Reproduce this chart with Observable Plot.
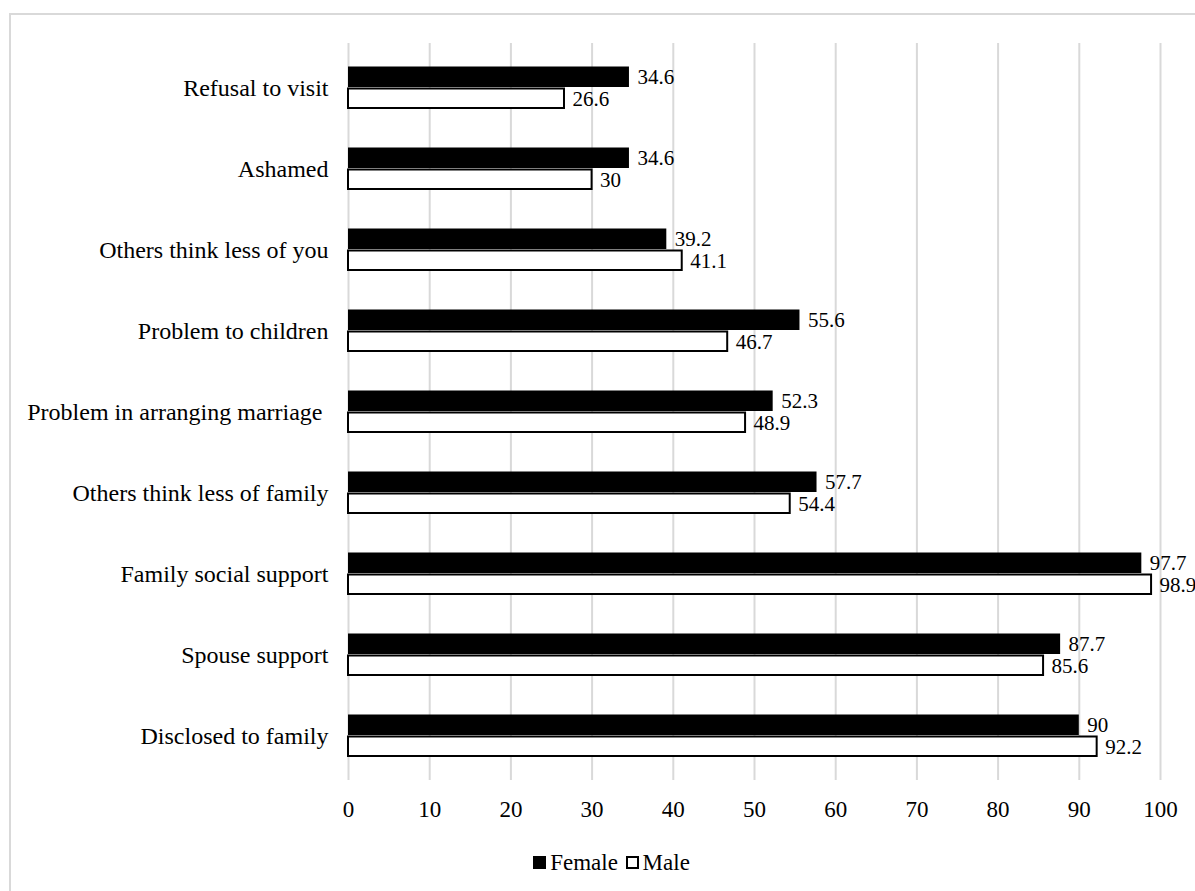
<!DOCTYPE html>
<html>
<head>
<meta charset="utf-8">
<script src="https://cdn.jsdelivr.net/npm/d3@7"></script>
<script src="https://cdn.jsdelivr.net/npm/@observablehq/plot@0.6"></script>
<style>
  html, body { margin: 0; padding: 0; background: #fff; }
  body { width: 1195px; height: 891px; overflow: hidden; position: relative; font-family: "Liberation Serif", "Times New Roman", serif; }
  #frame { position: absolute; left: 9px; top: 13px; width: 1200px; height: 900px; border: 2px solid #d9d9d9; box-sizing: border-box; }
  #chart { position: absolute; left: 0; top: 0; }
  #legend { position: absolute; left: 14px; top: 850px; width: 1195px; text-align: center; font-size: 23px; color: #000; }
  #legend span.sw { display: inline-block; width: 13px; height: 13px; box-sizing: border-box; border: 2px solid #000; margin-right: 4px; vertical-align: 1px; }
</style>
</head>
<body>
<div id="frame"></div>
<div id="chart"></div>
<div id="legend"><span class="sw" style="background:#000"></span>Female <span class="sw" style="background:#fff;margin-left:2px"></span>Male</div>
<script>
const categories = [
  "Refusal to visit",
  "Ashamed",
  "Others think less of you",
  "Problem to children",
  "Problem in arranging marriage ",
  "Others think less of family",
  "Family social support",
  "Spouse support",
  "Disclosed to family"
];
const female = [34.6, 34.6, 39.2, 55.6, 52.3, 57.7, 97.7, 87.7, 90];
const male = [26.6, 30, 41.1, 46.7, 48.9, 54.4, 98.9, 85.6, 92.2];
const xTicks = [0, 10, 20, 30, 40, 50, 60, 70, 80, 90, 100];

const fData = categories.map((c, i) => ({category: c, value: female[i]}));
const mData = categories.map((c, i) => ({category: c, value: male[i]}));

const font = "Liberation Serif, Times New Roman, serif";

const chart = Plot.plot({
  width: 1195,
  height: 835,
  marginLeft: 348,
  marginRight: 35,
  marginTop: 43,
  marginBottom: 55,
  style: {fontFamily: font, fontSize: "22px", color: "#000", background: "transparent"},
  x: {domain: [0, 100], ticks: xTicks, label: null},
  y: {domain: categories, padding: 0, label: null},
  marks: [
    Plot.ruleX(xTicks, {stroke: "#d9d9d9", strokeWidth: 2}),
    Plot.barX(fData, {x: "value", y: "category", fill: "#000", insetTop: 19.5, insetBottom: 41}),
    Plot.barX(mData, {x: "value", y: "category", fill: "#fff", stroke: "#000", strokeWidth: 2, insetTop: 41.5, insetBottom: 20}),
    Plot.text(fData, {x: "value", y: "category", text: d => String(d.value), textAnchor: "start", dx: 8, dy: -11, fontSize: 21, fill: "#000"}),
    Plot.text(mData, {x: "value", y: "category", text: d => String(d.value), textAnchor: "start", dx: 8, dy: 11, fontSize: 21, fill: "#000"}),
    Plot.axisX({ticks: xTicks, tickSize: 0, tickPadding: 20, fontSize: 23, label: null}),
    Plot.axisY({tickSize: 0, tickPadding: 20, fontSize: 24, label: null})
  ]
});
document.getElementById("chart").appendChild(chart);
</script>
</body>
</html>
